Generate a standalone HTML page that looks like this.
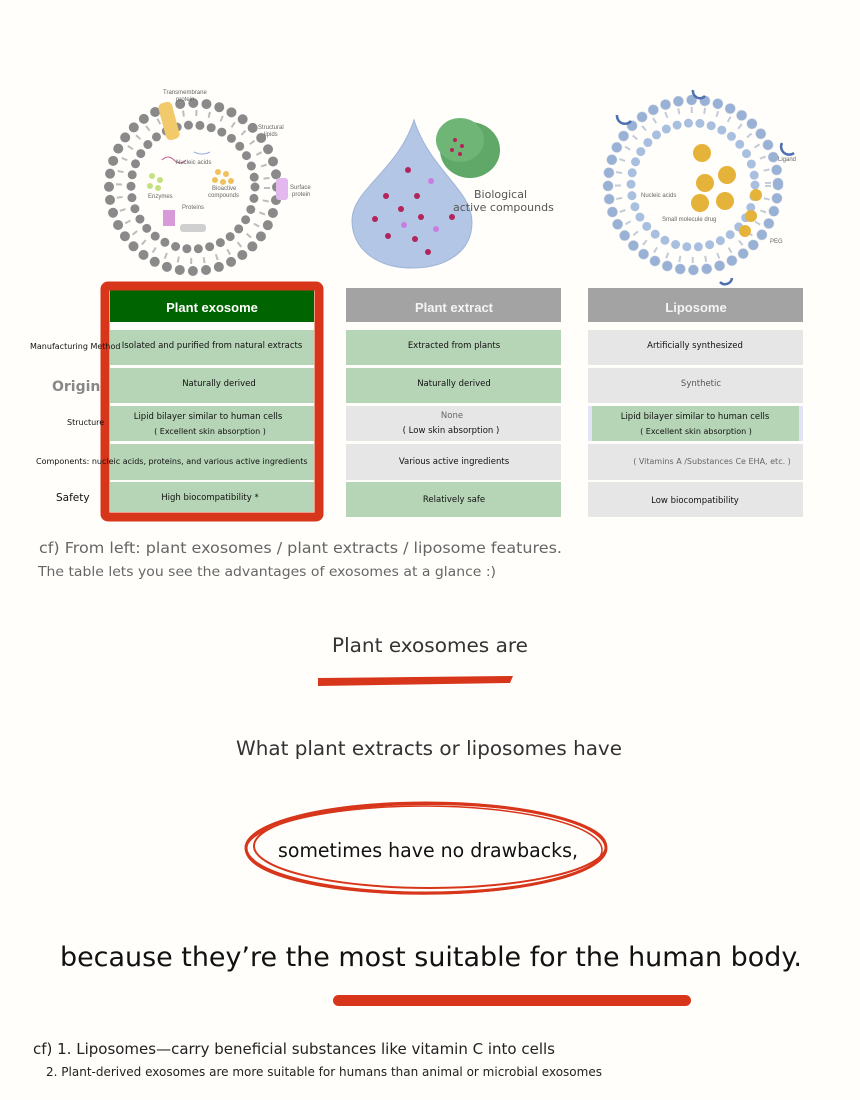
<!DOCTYPE html>
<html><head><meta charset="utf-8"><style>
html,body{margin:0;padding:0;background:#fffefa;}
svg{display:block;font-family:"DejaVu Sans","Liberation Sans",sans-serif;}
</style></head><body>
<svg width="860" height="1100" viewBox="0 0 860 1100" xmlns="http://www.w3.org/2000/svg">
<rect width="860" height="1100" fill="#fffefa"/>

<g>
 <circle cx="193" cy="187" r="84" fill="none" stroke="#8a8a8a" stroke-width="10" stroke-dasharray="0 13.2" stroke-linecap="round"/>
 <circle cx="193" cy="187" r="74" fill="none" stroke="#bdbdbd" stroke-width="6" stroke-dasharray="2 11"/>
 <circle cx="193" cy="187" r="62" fill="none" stroke="#8a8a8a" stroke-width="9" stroke-dasharray="0 11.5" stroke-linecap="round"/>
 <rect x="162" y="102" width="14" height="38" rx="5" fill="#f2c96b" transform="rotate(-15 169 121)"/>
 <rect x="276" y="178" width="12" height="22" rx="3" fill="#e3b8ef"/>
 <circle cx="152" cy="176" r="3" fill="#c5e07e"/><circle cx="160" cy="180" r="3" fill="#c5e07e"/><circle cx="150" cy="186" r="3" fill="#c5e07e"/><circle cx="158" cy="188" r="3" fill="#c5e07e"/>
 <circle cx="218" cy="172" r="3" fill="#efc15e"/><circle cx="226" cy="174" r="3" fill="#efc15e"/><circle cx="215" cy="180" r="3" fill="#efc15e"/><circle cx="223" cy="182" r="3" fill="#efc15e"/><circle cx="231" cy="181" r="3" fill="#efc15e"/>
 <rect x="163" y="210" width="12" height="16" fill="#d89ad8"/>
 <rect x="180" y="224" width="26" height="8" rx="3" fill="#d0d0d0"/>
 <path d="M162 160 q6 -6 12 0 t12 0" stroke="#c05b8c" fill="none"/>
 <path d="M194 152 q8 4 16 0" stroke="#8fb0e0" fill="none"/>
 <g font-size="6" fill="#666" font-family="Liberation Sans,sans-serif">
  <text x="163" y="94">Transmembrane</text><text x="176" y="101">protein</text>
  <text x="258" y="129">Structural</text><text x="264" y="136">lipids</text>
  <text x="176" y="164">Nucleic acids</text>
  <text x="148" y="198">Enzymes</text>
  <text x="212" y="190">Bioactive</text><text x="208" y="197">compounds</text>
  <text x="182" y="209">Proteins</text>
  <text x="290" y="189">Surface</text><text x="292" y="196">protein</text>
 </g>
</g>

<g>
 <path d="M414 120 C430 170 472 190 472 222 C472 252 446 268 412 268 C378 268 352 250 352 220 C352 190 398 170 414 120 Z" fill="#b3c6e6" stroke="#9fb3d6"/>
 <ellipse cx="470" cy="150" rx="30" ry="28" fill="#5fa868"/>
 <ellipse cx="460" cy="140" rx="24" ry="22" fill="#6fb576"/>
 <g fill="#b2245a">
  <circle cx="408" cy="170" r="3"/><circle cx="386" cy="196" r="3"/><circle cx="401" cy="209" r="3"/><circle cx="417" cy="196" r="3"/><circle cx="375" cy="219" r="3"/><circle cx="421" cy="217" r="3"/><circle cx="452" cy="217" r="3"/><circle cx="388" cy="236" r="3"/><circle cx="415" cy="239" r="3"/><circle cx="428" cy="252" r="3"/>
  <circle cx="455" cy="140" r="2"/><circle cx="462" cy="146" r="2"/><circle cx="452" cy="150" r="2"/><circle cx="460" cy="154" r="2"/>
 </g>
 <g fill="#c77ee0"><circle cx="431" cy="181" r="3"/><circle cx="404" cy="225" r="3"/><circle cx="436" cy="229" r="3"/></g>
 <text x="474" y="198" font-size="11" fill="#555">Biological</text>
 <text x="453" y="211" font-size="11" fill="#555">active compounds</text>
</g>

<g>
 <circle cx="693" cy="185" r="85" fill="none" stroke="#a9bfe0" stroke-width="10" stroke-dasharray="0 13.3" stroke-linecap="round"/>
 <circle cx="693" cy="185" r="85" fill="none" stroke="#7189b8" stroke-width="11" stroke-dasharray="0 13.3" stroke-linecap="round" opacity="0.25"/>
 <circle cx="693" cy="185" r="75" fill="none" stroke="#c4cbd8" stroke-width="6" stroke-dasharray="2 11"/>
 <circle cx="693" cy="185" r="62" fill="none" stroke="#a9bfe0" stroke-width="9" stroke-dasharray="0 11.5" stroke-linecap="round"/>
 <g fill="#e6b33a"><circle cx="702" cy="153" r="9"/><circle cx="727" cy="175" r="9"/><circle cx="705" cy="183" r="9"/><circle cx="700" cy="203" r="9"/><circle cx="725" cy="201" r="9"/><circle cx="756" cy="195" r="6"/><circle cx="751" cy="216" r="6"/><circle cx="745" cy="231" r="6"/></g>
 <g fill="none" stroke="#4e6fb0" stroke-width="2.5"><path d="M617 115 a8 8 0 0 0 14 6"/><path d="M693 90 a7 7 0 0 0 12 6"/><path d="M782 143 a8 8 0 0 0 12 10"/><path d="M720 282 a7 7 0 0 0 12 -4"/></g>
 <g font-size="6" fill="#666" font-family="Liberation Sans,sans-serif">
  <text x="641" y="197">Nucleic acids</text><text x="662" y="221">Small molecule drug</text><text x="778" y="161">Ligand</text><text x="770" y="243">PEG</text>
 </g>
</g>

<g font-size="8.5" fill="#111" text-anchor="middle">
 <rect x="346" y="288" width="215" height="34" fill="#a3a3a3"/>
 <rect x="588" y="288" width="215" height="34" fill="#a3a3a3"/>
 <rect x="110" y="290" width="204" height="32" fill="#006400"/>
 <text x="212" y="312" font-size="13" font-weight="bold" fill="#fff" font-family="Liberation Sans,sans-serif">Plant exosome</text>
 <text x="454" y="312" font-size="13" font-weight="bold" fill="#f4f4f4" font-family="Liberation Sans,sans-serif">Plant extract</text>
 <text x="696" y="312" font-size="13" font-weight="bold" fill="#f4f4f4" font-family="Liberation Sans,sans-serif">Liposome</text>

 <rect x="110" y="330" width="204" height="35" fill="#b6d4b6"/>
 <rect x="110" y="368" width="204" height="35" fill="#b6d4b6"/>
 <rect x="110" y="406" width="204" height="35" fill="#b6d4b6"/>
 <rect x="110" y="444" width="204" height="36" fill="#b6d4b6"/>
 <rect x="110" y="482" width="204" height="30" fill="#b6d4b6"/>

 <rect x="346" y="330" width="215" height="35" fill="#b6d4b6"/>
 <rect x="346" y="368" width="215" height="35" fill="#b6d4b6"/>
 <rect x="346" y="406" width="215" height="35" fill="#e6e6e6"/>
 <rect x="346" y="444" width="215" height="36" fill="#e6e6e6"/>
 <rect x="346" y="482" width="215" height="35" fill="#b6d4b6"/>

 <rect x="588" y="330" width="215" height="35" fill="#e6e6e6"/>
 <rect x="588" y="368" width="215" height="35" fill="#e6e6e6"/>
 <rect x="588" y="406" width="215" height="35" fill="#e2e4f4"/>
 <rect x="592" y="406" width="207" height="35" fill="#b6d4b6"/>
 <rect x="588" y="444" width="215" height="36" fill="#e6e6e6"/>
 <rect x="588" y="482" width="215" height="35" fill="#e6e6e6"/>

 <rect x="105" y="286" width="214" height="231" rx="3" fill="none" stroke="#d8361b" stroke-width="9"/>

 <text x="212" y="348">Isolated and purified from natural extracts</text>
 <text x="219" y="386">Naturally derived</text>
 <text x="208" y="419">Lipid bilayer similar to human cells</text>
 <text x="210" y="434" font-size="8">( Excellent skin absorption )</text>
 <text x="210" y="500">High biocompatibility *</text>

 <text x="454" y="348">Extracted from plants</text>
 <text x="454" y="386">Naturally derived</text>
 <text x="452" y="418" fill="#666">None</text>
 <text x="451" y="433">( Low skin absorption )</text>
 <text x="454" y="464">Various active ingredients</text>
 <text x="454" y="502">Relatively safe</text>

 <text x="695" y="348">Artificially synthesized</text>
 <text x="701" y="386" fill="#555">Synthetic</text>
 <text x="695" y="419">Lipid bilayer similar to human cells</text>
 <text x="696" y="434" font-size="8">( Excellent skin absorption )</text>
 <text x="712" y="464" fill="#666" font-size="8">( Vitamins A /Substances Ce EHA, etc. )</text>
 <text x="695" y="503">Low biocompatibility</text>
</g>

<g font-size="8" fill="#111">
 <text x="30" y="349">Manufacturing Method</text>
 <text x="67" y="425">Structure</text>
 <text x="36" y="464">Components: nucleic acids, proteins, and various active ingredients</text>
 <text x="56" y="501" font-size="10.5">Safety</text>
</g>
<text x="52" y="391" font-size="14" font-weight="bold" fill="#888">Origin</text>

<g lengthAdjust="spacingAndGlyphs">
<text x="39" y="553" font-size="15.5" fill="#666" textLength="523" lengthAdjust="spacingAndGlyphs">cf) From left: plant exosomes / plant extracts / liposome features.</text>
<text x="38" y="576" font-size="13.5" fill="#666" textLength="458" lengthAdjust="spacingAndGlyphs">The table lets you see the advantages of exosomes at a glance :)</text>

<text x="332" y="652" font-size="19.5" fill="#333" textLength="196" lengthAdjust="spacingAndGlyphs">Plant exosomes are</text>

<text x="236" y="755" font-size="19.5" fill="#333" textLength="386" lengthAdjust="spacingAndGlyphs">What plant extracts or liposomes have</text>

<text x="278" y="857" font-size="19.5" fill="#111" textLength="300" lengthAdjust="spacingAndGlyphs">sometimes have no drawbacks,</text>

<text x="60" y="966" font-size="27" fill="#111" textLength="742" lengthAdjust="spacingAndGlyphs">because they’re the most suitable for the human body.</text>

<text x="33" y="1054" font-size="15" fill="#222" textLength="522" lengthAdjust="spacingAndGlyphs">cf) 1. Liposomes—carry beneficial substances like vitamin C into cells</text>
<text x="46" y="1076" font-size="12.5" fill="#222" textLength="556" lengthAdjust="spacingAndGlyphs">2. Plant-derived exosomes are more suitable for humans than animal or microbial exosomes</text>
</g>

<path d="M318 678 L513 676 L510 683 L318 686 Z" fill="#d8361b"/>
<g fill="none" stroke="#d8361b">
 <ellipse cx="426" cy="848" rx="180" ry="45" stroke-width="3"/>
 <ellipse cx="430" cy="846" rx="176" ry="42" stroke-width="2"/>
 <ellipse cx="424" cy="850" rx="178" ry="44" stroke-width="1.5"/>
</g>
<rect x="333" y="995" width="358" height="11" rx="5.5" fill="#d8361b"/>
</svg>
</body></html>
